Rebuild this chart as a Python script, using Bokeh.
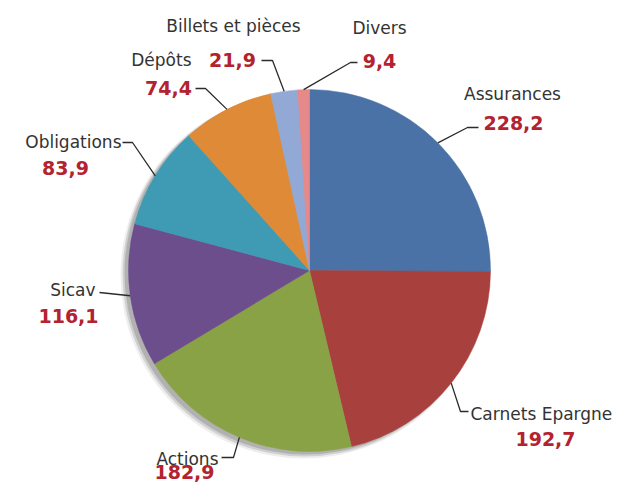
import math
from bokeh.plotting import figure
from bokeh.models import Range1d
from bokeh.core.properties import value
from bokeh.embed import file_html
from bokeh.resources import INLINE

# ---- data ----
categories = ["Assurances", "Carnets Epargne", "Actions", "Sicav",
              "Obligations", "Dépôts", "Billets et pièces", "Divers"]
amounts = [228.2, 192.7, 182.9, 116.1, 83.9, 74.4, 21.9, 9.4]
value_labels = ["228,2", "192,7", "182,9", "116,1", "83,9", "74,4", "21,9", "9,4"]
colors = ["#4A72A6", "#A8413D", "#8AA246", "#6C4E8D",
          "#3F9AB4", "#DF8A37", "#93A9D5", "#E6898A"]

# ---- layout (screen pixels, y down -> data y = -pixel) ----
CX, CY, R = 309, 270, 181
W, H = 623, 482

p = figure(width=W, height=H, output_backend="svg", toolbar_location=None,
           x_range=Range1d(0, W), y_range=Range1d(-H, 0),
           min_border=0)
p.axis.visible = False
p.grid.visible = False
p.outline_line_color = None
p.background_fill_color = "white"

# shadow
for off, rr, a in [((-6, 5), R + 2, 0.15), ((-5, 4), R + 1, 0.3), ((-4, 3), R, 0.45)]:
    p.circle(x=CX + off[0], y=-(CY + off[1]), radius=rr,
             fill_color="#8c8c8c", fill_alpha=a, line_color=None)

total = sum(amounts)
cum = 0.0
mids = []
for amt, col in zip(amounts, colors):
    f0 = cum / total
    cum += amt
    f1 = cum / total
    a_start = math.pi / 2 - f0 * 2 * math.pi
    a_end = math.pi / 2 - f1 * 2 * math.pi
    p.wedge(x=CX, y=-CY, radius=R, start_angle=a_end, end_angle=a_start,
            fill_color=col, line_color=col, line_width=0.5)
    mids.append((a_start + a_end) / 2)

# leader lines: from slice edge (mid-angle) to an elbow and the label
elbows = [
    [(467, 127), (478, 127)],
    [(460, 411), (468, 411)],
    [(233, 457), (221, 457)],
    [(99, 292)],
    [(132, 142), (122, 142)],
    [(205, 88), (195, 88)],
    [(272, 60), (261, 60)],
    [(350, 62), (357, 62)],
]
xs, ys = [], []
for m, el in zip(mids, elbows):
    ex = CX + R * math.cos(m)
    ey = CY - R * math.sin(m)
    pts = [(ex, ey)] + el
    xs.append([q[0] for q in pts])
    ys.append([-q[1] for q in pts])
p.multi_line(xs=xs, ys=ys, line_color="#2b2b2b", line_width=1.3)

# labels
name_pos = [(512, 93, "center"), (470, 413, "left"), (218, 458, "right"),
            (95, 289, "right"), (121, 141, "right"), (191, 59, "right"),
            (233, 25, "center"), (379, 27, "center")]
val_pos = [(513, 122, "center"), (545, 438, "center"), (184, 471, "center"),
           (68, 315, "center"), (65, 167, "center"), (168, 87, "center"),
           (232, 59, "center"), (379, 60, "center")]

for (x, y, al), t in zip(name_pos, categories):
    p.text(x=[x], y=[-y], text=[t], text_align=al, text_baseline="middle",
           text_font=value("DejaVu Sans"), text_font_size="17px",
           text_color="#333333")
for (x, y, al), t in zip(val_pos, value_labels):
    p.text(x=[x], y=[-y], text=[t], text_align=al, text_baseline="middle",
           text_font=value("DejaVu Sans"), text_font_size="19px",
           text_font_style="bold", text_color="#B3222E")

open("out.html", "w").write(file_html(p, INLINE))
